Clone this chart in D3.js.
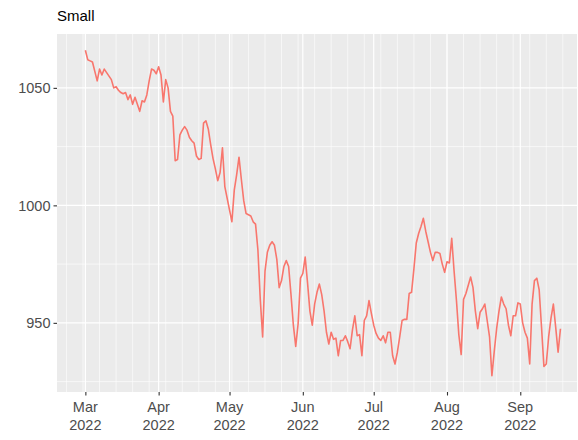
<!DOCTYPE html>
<html>
<head>
<meta charset="utf-8">
<script src="https://cdn.jsdelivr.net/npm/d3@7"></script>
<style>
  html, body { margin: 0; padding: 0; background: #ffffff; }
  svg { display: block; font-family: "Liberation Sans", Arial, sans-serif; }
</style>
</head>
<body>
<svg id="chart" width="578" height="440"></svg>
<script>
// ---- data ----
const title = "Small";
const startDate = "2022-03-01";
const values = [
  1066, 1062, 1061.5, 1061, 1057, 1053, 1058, 1055.5, 1058, 1056.5,
  1055, 1053.5, 1050, 1050.5, 1049, 1048, 1047.5, 1048, 1045, 1047,
  1043, 1046, 1043, 1040, 1044.5, 1044, 1047, 1053, 1058, 1057.5,
  1056, 1059, 1055.5, 1044, 1053.5, 1050, 1040, 1038, 1019, 1019.5,
  1030, 1032, 1033.5, 1032, 1029, 1027.5, 1026.5, 1021, 1019.5, 1020,
  1035, 1036, 1032.5, 1026, 1020, 1015.5, 1010.5, 1014, 1024.5, 1008,
  1003, 998, 993, 1006.5, 1013, 1020.5, 1011, 1002, 996.5, 996,
  995.5, 993, 992, 981, 960, 944, 972, 980, 983, 984.5,
  983, 977, 965, 968, 974, 976.5, 974, 962, 949, 940,
  949.5, 969, 971, 978, 967, 955, 949, 958, 963, 966.5,
  962, 955, 946, 941, 946, 943, 943.5, 936, 942.5, 942.5,
  944.5, 942, 939, 947, 953, 944.5, 945, 936, 951, 953,
  959.5, 954, 949, 945.5, 943.5, 942.5, 944.5, 941.5, 946, 946,
  936, 932.5, 937.5, 944, 951, 951.5, 951.5, 962.5, 963, 973,
  984, 988, 991, 994.5, 989, 984.5, 980, 976.5, 980, 980,
  979.5, 975, 971.5, 976, 975.5, 986, 972, 959.5, 945, 936.5,
  960, 962.5, 966, 969.5, 965, 955, 947.5, 954.5, 956, 958,
  951, 944, 927.5, 938, 947.5, 955, 961, 958, 956, 949,
  944.5, 953, 953, 958.5, 958, 950, 946, 943.5, 932.5, 958,
  968, 969, 964, 948, 931.5, 932.5, 944, 952, 958, 948,
  937.5, 947.5
];
const yTicks = [950, 1000, 1050];
const yMinor = [925, 975, 1025];
const xTickMonths = ["2022-03-01", "2022-04-01", "2022-05-01", "2022-06-01", "2022-07-01", "2022-08-01", "2022-09-01"];

// ---- layout ----
const svg = d3.select("#chart");
const panel = { left: 57, right: 577, top: 34, bottom: 392 };

const parse = d3.utcParse("%Y-%m-%d");
const t0 = parse(startDate);
const data = values.map((v, i) => ({ date: d3.utcDay.offset(t0, i), value: v }));

const xExt = d3.extent(data, d => d.date);
const yExt = d3.extent(data, d => d.value);
const ySpan = yExt[1] - yExt[0];

const x = d3.scaleUtc()
  .domain([d3.utcDay.offset(xExt[0], -11.4), d3.utcDay.offset(xExt[0], 208.5)])
  .range([panel.left, panel.right]);
const y = d3.scaleLinear()
  .domain([yExt[0] - 0.05 * ySpan, yExt[1] + 0.05 * ySpan])
  .range([panel.bottom, panel.top]);

// panel background
svg.append("rect")
  .attr("x", panel.left).attr("y", panel.top)
  .attr("width", panel.right - panel.left).attr("height", panel.bottom - panel.top)
  .attr("fill", "#ebebeb");

const grid = svg.append("g");
const mondays = d3.utcMonday.range(x.domain()[0], x.domain()[1]);
grid.selectAll(".vminor").data(mondays).enter().append("line")
  .attr("x1", d => x(d)).attr("x2", d => x(d))
  .attr("y1", panel.top).attr("y2", panel.bottom)
  .attr("stroke", "#ffffff").attr("stroke-width", 0.6);
grid.selectAll(".hminor").data(yMinor.filter(v => y(v) >= panel.top && y(v) <= panel.bottom)).enter().append("line")
  .attr("x1", panel.left).attr("x2", panel.right)
  .attr("y1", d => y(d)).attr("y2", d => y(d))
  .attr("stroke", "#ffffff").attr("stroke-width", 0.6);
const xTicks = xTickMonths.map(parse);
grid.selectAll(".vmajor").data(xTicks).enter().append("line")
  .attr("x1", d => x(d)).attr("x2", d => x(d))
  .attr("y1", panel.top).attr("y2", panel.bottom)
  .attr("stroke", "#ffffff").attr("stroke-width", 1.2);
grid.selectAll(".hmajor").data(yTicks).enter().append("line")
  .attr("x1", panel.left).attr("x2", panel.right)
  .attr("y1", d => y(d)).attr("y2", d => y(d))
  .attr("stroke", "#ffffff").attr("stroke-width", 1.2);

// line
const line = d3.line().x(d => x(d.date)).y(d => y(d.value));
svg.append("path").datum(data)
  .attr("d", line)
  .attr("fill", "none")
  .attr("stroke", "#F8766D")
  .attr("stroke-width", 1.6)
  .attr("stroke-linejoin", "round");

// y axis
const yAxis = d3.axisLeft(y).tickValues(yTicks).tickSize(3.5).tickPadding(3).tickFormat(d3.format("d"));
const gy = svg.append("g").attr("transform", `translate(${panel.left},0)`).call(yAxis);
gy.select(".domain").remove();
gy.selectAll(".tick line").attr("stroke", "#333333").attr("stroke-width", 1.1);
gy.selectAll(".tick text").attr("fill", "#4d4d4d").style("font-size", "14.5px")
  .style("font-family", '"Liberation Sans", Arial, sans-serif');

// x axis
const xAxis = d3.axisBottom(x).tickValues(xTicks).tickSize(3.5).tickFormat(() => "");
const gx = svg.append("g").attr("transform", `translate(0,${panel.bottom})`).call(xAxis);
gx.select(".domain").remove();
gx.selectAll(".tick line").attr("stroke", "#333333").attr("stroke-width", 1.1);
gx.selectAll(".tick text").remove();
const fmtM = d3.utcFormat("%b"), fmtY = d3.utcFormat("%Y");
const xl = svg.append("g");
xTicks.forEach(d => {
  const t = xl.append("text")
    .attr("x", x(d)).attr("y", panel.bottom + 20)
    .attr("text-anchor", "middle")
    .attr("fill", "#4d4d4d")
    .style("font-size", "14.5px");
  t.append("tspan").attr("x", x(d)).attr("dy", 0).text(fmtM(d));
  t.append("tspan").attr("x", x(d)).attr("dy", 18).text(fmtY(d));
});

// title
svg.append("text")
  .attr("x", panel.left).attr("y", 21)
  .attr("fill", "#000000")
  .style("font-size", "15px")
  .text(title);
</script>
</body>
</html>
